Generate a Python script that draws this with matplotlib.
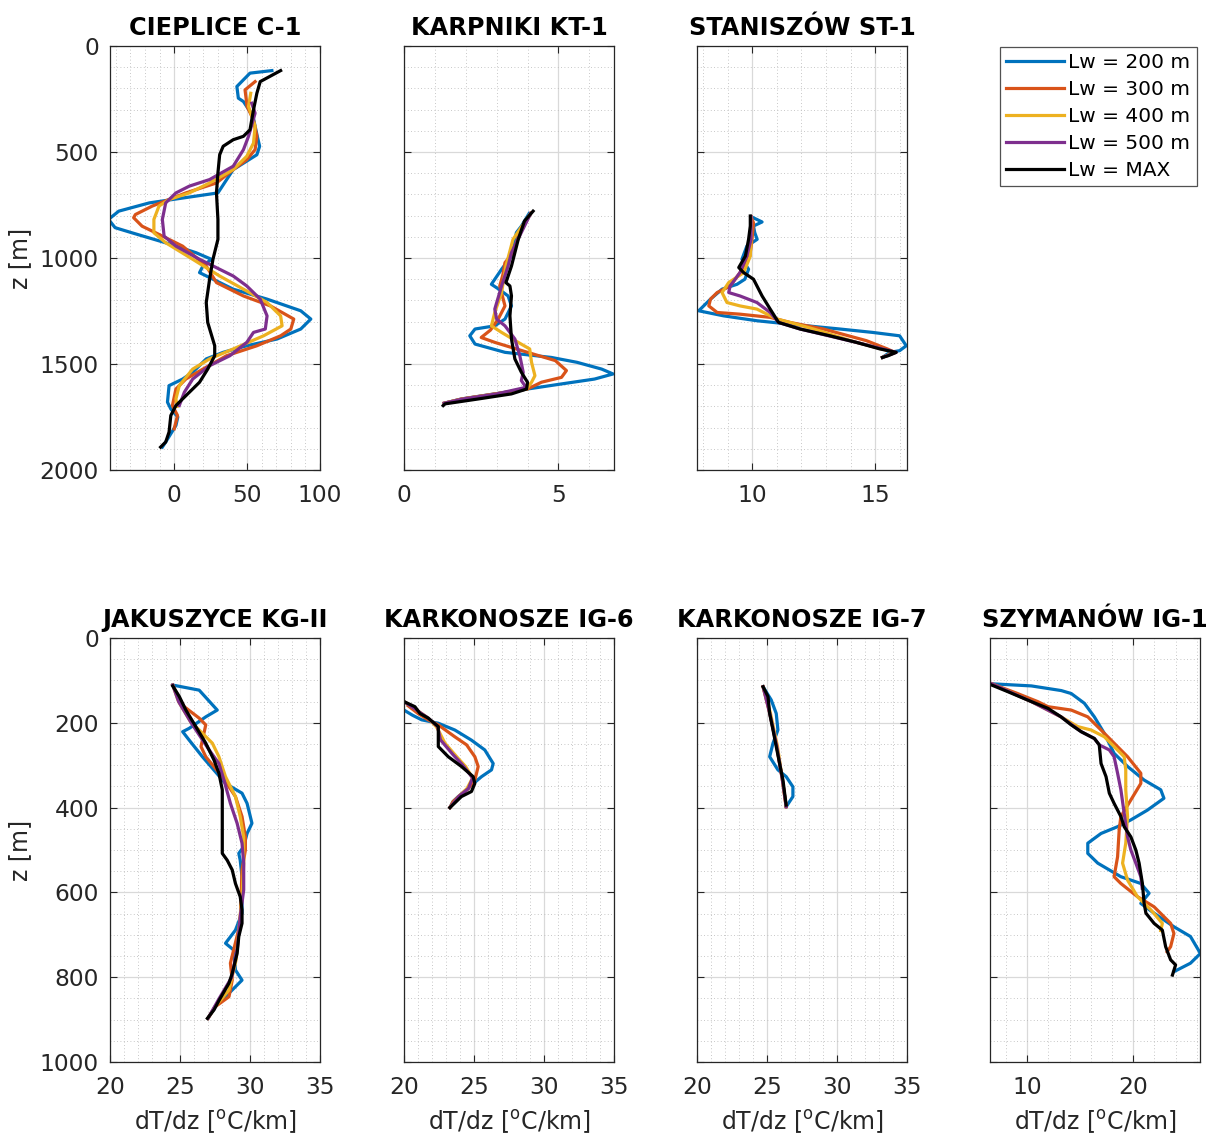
import matplotlib.pyplot as plt
from matplotlib.ticker import MultipleLocator

# (depth z [m], dT/dz [oC/km]) pairs
# --- CIEPLICE C-1
cie_200 = [(116, 67), (128, 52), (191, 43), (246, 44), (262, 47.5), (330, 54), (426, 57), (473, 58.6), (513, 56.7),
           (583, 40.5), (630, 36), (693, 30), (740, -17), (779, -38), (818, -45), (857, -40.5), (881, -29), (928, -6),
           (975, 15), (1006, 25.5), (1038, 19.7), (1069, 17.4), (1147, 40.5), (1194, 63.7), (1249, 86.8), (1288, 93.7),
           (1335, 86.8), (1382, 70.6), (1414, 49.8), (1445, 33.6), (1476, 22), (1539, 12.7), (1571, 5.8), (1602, -3.5),
           (1680, -4.6), (1712, -2.3), (1750, 2.5), (1790, 1.2), (1868, -5.8), (1892, -8.1)]
cie_300 = [(168, 55.5), (207, 48.6), (285, 50), (348, 54.4), (426, 56.7), (489, 55.5), (536, 49.8), (583, 40.5),
           (646, 29), (693, 8), (755, -15), (795, -26.6), (810, -27.8), (850, -22), (881, -12.7), (944, 5.8),
           (1038, 22), (1116, 29), (1179, 47.5), (1226, 66), (1288, 82), (1335, 80), (1367, 73), (1414, 56.7),
           (1461, 35.9), (1524, 19.7), (1571, 8), (1618, 1.2), (1696, -1.2), (1743, 2.3), (1806, 0)]
cie_400 = [(223, 52.5), (285, 51), (379, 55.5), (458, 54.4), (520, 49.8), (583, 40.5), (646, 24.3), (693, 10.4),
           (724, -3.5), (755, -10.4), (818, -13.9), (881, -13.9), (928, -5.8), (1006, 12.7), (1085, 31.2),
           (1147, 47.5), (1210, 63.7), (1273, 73), (1320, 74), (1367, 61.3), (1429, 40.5), (1476, 24.3),
           (1524, 12.7), (1602, 3.5), (1665, 1.2), (1700, 2)]
cie_500 = [(270, 53.2), (317, 55.5), (426, 51), (489, 47.5), (567, 40.5), (630, 24.3), (661, 10.4), (693, 1.2),
           (740, -5.8), (818, -8.1), (897, -6.9), (944, 1.2), (1006, 17.4), (1085, 40.5), (1132, 49.8), (1194, 59),
           (1273, 63.7), (1335, 62.5), (1351, 54.4), (1398, 49.8), (1461, 38.2), (1508, 24.3), (1571, 12.7),
           (1633, 7), (1696, 3.5)]
cie_max = [(116, 73), (168, 59), (223, 56.7), (301, 54.4), (395, 52), (426, 47.5), (442, 40.5), (473, 33.6),
           (513, 31.2), (599, 30), (693, 29), (818, 30), (912, 30), (1006, 26.6), (1100, 24.3), (1210, 22),
           (1304, 23), (1414, 27.8), (1461, 27.8), (1524, 23), (1586, 17.4), (1649, 8.1), (1696, 1.2), (1743, -2.3),
           (1821, -3.5), (1868, -5.8), (1892, -9.3)]

# --- KARPNIKI KT-1
kar_200 = [(790, 4.05), (850, 3.8), (880, 3.64), (991, 3.48), (1053, 3.16), (1124, 2.83), (1150, 3.1), (1179, 3.37),
           (1226, 3.48), (1288, 3.27), (1320, 2.94), (1335, 2.3), (1367, 2.13), (1406, 2.3), (1445, 3.27),
           (1469, 4.77), (1492, 5.6), (1524, 6.4), (1547, 6.77), (1571, 6.17), (1594, 5.1), (1618, 4.0),
           (1641, 2.94), (1665, 1.86), (1685, 1.3)]
kar_300 = [(790, 4.1), (881, 3.75), (975, 3.53), (1022, 3.27), (1080, 3.2), (1132, 3.1), (1226, 3.27), (1288, 3.05),
           (1340, 2.8), (1375, 2.5), (1398, 2.94), (1445, 4.0), (1484, 4.9), (1531, 5.26), (1563, 5.1),
           (1586, 4.45), (1618, 4.0), (1641, 2.94), (1665, 1.86), (1685, 1.3)]
kar_400 = [(790, 4.1), (912, 3.53), (1038, 3.3), (1163, 3.16), (1257, 2.94), (1320, 2.83), (1351, 3.16), (1398, 3.7),
           (1429, 4.07), (1492, 4.13), (1555, 4.24), (1586, 4.13), (1618, 3.97), (1641, 3.0), (1665, 1.9),
           (1685, 1.3)]
kar_500 = [(790, 4.1), (975, 3.48), (1038, 3.37), (1132, 3.16), (1241, 2.94), (1288, 3.0), (1320, 3.27),
           (1382, 3.59), (1461, 3.75), (1539, 3.86), (1578, 3.8), (1610, 3.95), (1641, 3.0), (1665, 1.9), (1685, 1.3)]
kar_max = [(779, 4.18), (826, 3.9), (912, 3.7), (1038, 3.48), (1116, 3.3), (1132, 3.43), (1179, 3.48), (1273, 3.43),
           (1382, 3.48), (1476, 3.59), (1539, 3.8), (1586, 4.0), (1618, 3.97), (1641, 3.48), (1665, 2.4),
           (1688, 1.33), (1696, 1.27)]

# --- STANISZOW ST-1
sta_200 = [(805, 9.95), (830, 10.4), (849, 10.05), (880, 10.1), (912, 10.2), (944, 9.78), (1006, 9.58), (1053, 9.85),
           (1100, 9.7), (1124, 9.38), (1147, 8.77), (1194, 8.3), (1249, 7.82), (1273, 8.84), (1296, 10.19),
           (1312, 11.54), (1335, 13.57), (1351, 14.9), (1367, 16.0), (1414, 16.27), (1437, 16.0), (1445, 15.6),
           (1469, 15.3)]
sta_300 = [(805, 9.95), (834, 10.05), (912, 9.99), (991, 9.9), (1069, 9.5), (1132, 9.1), (1163, 8.57), (1194, 8.3),
           (1226, 8.23), (1257, 8.57), (1265, 9.5), (1280, 10.73), (1304, 11.54), (1335, 12.9), (1390, 14.65),
           (1429, 15.5), (1445, 15.8), (1469, 15.3)]
sta_400 = [(805, 9.95), (912, 9.95), (991, 9.92), (1069, 9.65), (1116, 9.04), (1163, 8.77), (1210, 8.97),
           (1226, 9.5), (1241, 10.19), (1288, 11.0), (1304, 11.54), (1335, 12.5), (1398, 14.24), (1445, 15.8),
           (1469, 15.3)]
sta_500 = [(805, 9.95), (912, 9.95), (991, 9.78), (1069, 9.5), (1132, 9.1), (1163, 9.04), (1179, 9.5), (1210, 10.19),
           (1257, 10.73), (1304, 11.07), (1335, 11.95), (1398, 14.24), (1445, 15.86), (1469, 15.3)]
sta_max = [(802, 9.92), (849, 9.92), (912, 9.85), (991, 9.72), (1045, 9.45), (1069, 9.65), (1100, 10.05),
           (1179, 10.4), (1241, 10.73), (1304, 11.07), (1335, 11.95), (1367, 13.16), (1398, 14.24), (1429, 15.2),
           (1445, 15.86), (1461, 15.53), (1469, 15.3)]

# --- JAKUSZYCE KG-II
jak_200 = [(111, 24.48), (123, 26.37), (170, 27.66), (186, 26.84), (213, 25.66), (221, 25.19), (241, 25.66),
           (280, 26.6), (343, 28.25), (366, 29.43), (390, 29.79), (437, 30.14), (461, 29.79), (492, 29.55),
           (508, 29.2), (524, 29.3), (563, 29.43), (649, 29.43), (689, 28.96), (720, 28.25), (736, 28.84),
           (783, 28.96), (807, 29.43), (846, 28.25), (870, 27.5), (897, 27.0)]
jak_300 = [(111, 24.48), (140, 24.9), (162, 25.3), (189, 26.37), (205, 26.84), (256, 26.5), (280, 26.84),
           (327, 28.02), (374, 28.96), (421, 29.43), (469, 29.67), (500, 29.67), (547, 29.43), (673, 29.3),
           (767, 28.6), (807, 28.73), (846, 28.5), (870, 27.5), (897, 27.0)]
jak_400 = [(111, 24.48), (150, 24.9), (200, 25.8), (217, 26.37), (248, 27.31), (280, 27.78), (327, 28.25),
           (374, 28.96), (421, 29.3), (469, 29.55), (531, 29.55), (610, 29.43), (689, 29.2), (760, 29.0),
           (830, 28.5), (870, 27.5), (897, 27.0)]
jak_500 = [(111, 24.48), (150, 24.9), (200, 25.8), (240, 26.6), (264, 27.08), (296, 27.78), (335, 28.14),
           (390, 28.6), (437, 29.08), (484, 29.43), (531, 29.55), (594, 29.55), (657, 29.3), (730, 29.1),
           (800, 28.7), (850, 27.8), (897, 27.0)]
jak_max = [(113, 24.48), (138, 24.95), (170, 25.42), (209, 26.13), (248, 26.84), (288, 27.43), (319, 27.78),
           (358, 28.02), (421, 28.02), (508, 28.02), (524, 28.37), (547, 28.73), (579, 28.96), (610, 29.3),
           (641, 29.43), (673, 29.43), (704, 29.2), (744, 29.08), (791, 28.73), (814, 28.5), (854, 27.8),
           (877, 27.43), (897, 26.96)]

# --- KARKONOSZE IG-6
ig6_200 = [(170, 20.0), (182, 20.6), (193, 21.26), (201, 22.45), (217, 23.63), (241, 24.82), (264, 25.77),
           (296, 26.37), (311, 26.25), (327, 25.54), (347, 24.82), (358, 24.47), (374, 23.87), (386, 23.5),
           (400, 23.28)]
ig6_300 = [(160, 20.3), (178, 21.0), (193, 21.73), (205, 22.45), (233, 23.63), (252, 24.47), (280, 25.06),
           (303, 25.3), (319, 25.18), (335, 25.06), (355, 24.6), (374, 23.9), (386, 23.5), (400, 23.28)]
ig6_400 = [(150, 20.0), (170, 20.9), (189, 21.73), (209, 22.3), (217, 22.45), (248, 22.92), (284, 23.87),
           (303, 24.4), (330, 24.9), (355, 24.5), (374, 23.9), (400, 23.28)]
ig6_500 = [(150, 20.0), (170, 20.9), (189, 21.73), (209, 22.4), (240, 22.6), (275, 23.5), (300, 24.2), (330, 24.9),
           (355, 24.6), (374, 23.9), (400, 23.28)]
ig6_max = [(150, 20.0), (162, 20.78), (178, 21.14), (189, 21.73), (209, 22.45), (256, 22.45), (280, 23.16),
           (303, 24.1), (327, 24.94), (343, 25.06), (362, 24.82), (374, 24.1), (390, 23.6), (400, 23.28)]

# --- KARKONOSZE IG-7
ig7_200 = [(115, 24.72), (146, 25.3), (178, 25.66), (217, 25.78), (248, 25.43), (280, 25.19), (311, 25.78),
           (327, 26.37), (351, 26.85), (374, 26.85), (398, 26.37)]
ig7_300 = [(115, 24.72), (178, 25.2), (256, 25.7), (335, 26.1), (398, 26.37)]
ig7_400 = [(115, 24.72), (178, 25.25), (256, 25.75), (335, 26.1), (398, 26.37)]
ig7_500 = [(115, 24.72), (178, 25.2), (256, 25.7), (335, 26.1), (398, 26.37)]
ig7_max = [(115, 24.72), (138, 25.07), (178, 25.19), (217, 25.43), (256, 25.66), (296, 25.9), (335, 26.14),
           (366, 26.26), (394, 26.37)]

# --- SZYMANOW IG-1
szy_200 = [(108, 6.66), (113, 10.4), (124, 13.22), (131, 14.16), (154, 15.4), (186, 16.34), (225, 17.28),
           (272, 18.2), (303, 19.47), (335, 21.03), (358, 22.6), (378, 22.9), (406, 21.34), (429, 19.78),
           (445, 18.53), (461, 16.97), (484, 15.72), (508, 15.72), (531, 16.66), (563, 18.84), (579, 20.72),
           (602, 21.5), (626, 20.72), (649, 21.97), (681, 23.84), (704, 25.4), (744, 26.34), (767, 25.4),
           (787, 23.84)]
szy_300 = [(108, 6.66), (130, 9.0), (150, 11.0), (162, 11.97), (170, 14.16), (186, 15.72), (217, 16.97),
           (248, 18.2), (280, 19.47), (319, 20.72), (343, 20.72), (382, 19.78), (421, 18.84), (453, 18.68),
           (516, 18.53), (563, 18.2), (579, 18.84), (610, 20.4), (634, 21.97), (673, 23.53), (697, 23.84),
           (728, 23.53), (740, 23.2)]
szy_400 = [(108, 6.66), (150, 10.4), (186, 13.2), (209, 14.78), (217, 16.03), (233, 17.28), (256, 18.2),
           (280, 19.15), (311, 19.3), (358, 19.3), (421, 19.47), (484, 19.3), (531, 19.0), (571, 19.47),
           (610, 20.4), (641, 21.66), (673, 22.75), (690, 22.6)]
szy_500 = [(108, 6.66), (150, 10.4), (186, 13.2), (221, 15.1), (237, 16.34), (252, 16.8), (264, 17.75),
           (280, 18.2), (319, 18.53), (358, 18.84), (413, 19.15), (469, 19.47), (500, 19.78), (531, 20.25),
           (563, 20.72), (590, 20.85)]
szy_max = [(111, 6.66), (127, 8.22), (150, 10.4), (166, 11.97), (186, 13.2), (205, 14.16), (221, 15.1),
           (237, 16.34), (252, 16.8), (296, 16.97), (327, 17.44), (366, 17.75), (390, 18.2), (421, 18.84),
           (445, 19.15), (469, 19.78), (500, 20.25), (531, 20.56), (579, 20.87), (626, 21.03), (649, 21.2),
           (673, 21.97), (689, 22.75), (728, 23.06), (759, 23.53), (771, 24.0), (795, 23.7)]

titles = ['CIEPLICE C-1', 'KARPNIKI KT-1', 'STANISZÓW ST-1', 'JAKUSZYCE KG-II',
          'KARKONOSZE IG-6', 'KARKONOSZE IG-7', 'SZYMANÓW IG-1']
profiles = [
    (cie_200, cie_300, cie_400, cie_500, cie_max),
    (kar_200, kar_300, kar_400, kar_500, kar_max),
    (sta_200, sta_300, sta_400, sta_500, sta_max),
    (jak_200, jak_300, jak_400, jak_500, jak_max),
    (ig6_200, ig6_300, ig6_400, ig6_500, ig6_max),
    (ig7_200, ig7_300, ig7_400, ig7_500, ig7_max),
    (szy_200, szy_300, szy_400, szy_500, szy_max),
]
labels = ['Lw = 200 m', 'Lw = 300 m', 'Lw = 400 m', 'Lw = 500 m', 'Lw = MAX']
colors = ['#0072BD', '#D95319', '#EDB120', '#7E2F8E', 'k']

xlims = [(-44, 100), (0, 6.8), (7.75, 16.3), (20, 35), (20, 35), (20, 35), (6.5, 26.3)]
xmajor = [50, 5, 5, 5, 5, 5, 10]
xminor = [10, 1, 1, 1, 1, 1, 2]

W, H = 1213, 1137
fig = plt.figure(figsize=(W / 100, H / 100), dpi=100)

lefts = [110, 404, 697, 990]
boxes = [(lefts[0], 46), (lefts[1], 46), (lefts[2], 46),
         (lefts[0], 638), (lefts[1], 638), (lefts[2], 638), (lefts[3], 638)]

gray = '#262626'
axes = []
for i, (l, t) in enumerate(boxes):
    ax = fig.add_axes([l / W, 1 - (t + 424) / H, 210 / W, 424 / H])
    for data, c, lab in zip(profiles[i], colors, labels):
        z = [p[0] for p in data]
        g = [p[1] for p in data]
        ax.plot(g, z, color=c, lw=2.3, label=lab, solid_joinstyle='round')
    top = i < 3
    ax.set_xlim(*xlims[i])
    ax.set_ylim(2000 if top else 1000, 0)
    ax.xaxis.set_major_locator(MultipleLocator(xmajor[i]))
    ax.xaxis.set_minor_locator(MultipleLocator(xminor[i]))
    ax.yaxis.set_major_locator(MultipleLocator(500 if top else 200))
    ax.yaxis.set_minor_locator(MultipleLocator(100 if top else 50))
    ax.grid(which='major', color='#d9d9d9', lw=0.9)
    ax.grid(which='minor', color='#b5b5b5', lw=0.6, ls=(0, (1, 3)))
    ax.set_axisbelow(True)
    ax.tick_params(which='both', direction='in', top=True, right=True, colors=gray,
                   labelsize=16.8)
    ax.tick_params(axis='x', pad=10)
    ax.tick_params(axis='y', pad=8)
    ax.tick_params(which='major', length=5, width=0.8)
    ax.tick_params(which='minor', length=0)
    for s in ax.spines.values():
        s.set_color(gray)
        s.set_linewidth(0.9)
    # title placed at a fixed baseline so accented titles line up with the others
    ax.text(0.5, 1 + 11 / 424, titles[i], transform=ax.transAxes, ha='center', va='baseline',
            fontsize=17.3, fontweight='bold')
    if l == lefts[0]:
        ax.set_ylabel('z [m]', fontsize=17, color=gray)
        ax.yaxis.set_label_coords(-0.37, 0.5)
    else:
        ax.tick_params(labelleft=False)
    if not top:
        ax.set_xlabel(r'dT/dz [$^\mathregular{o}$C/km]', fontsize=17, color=gray, labelpad=7)
    axes.append(ax)

handles, labs = axes[0].get_legend_handles_labels()
leg = fig.legend(handles, labs, loc='upper left', bbox_to_anchor=(1000 / W, 1 - 47 / H),
                 fontsize=14.5, frameon=True, fancybox=False, edgecolor=gray,
                 handlelength=2.9, handletextpad=0.2, borderpad=0.3, labelspacing=0.4,
                 borderaxespad=0)
leg.get_frame().set_linewidth(0.9)

fig.savefig('out.png', dpi=100)
